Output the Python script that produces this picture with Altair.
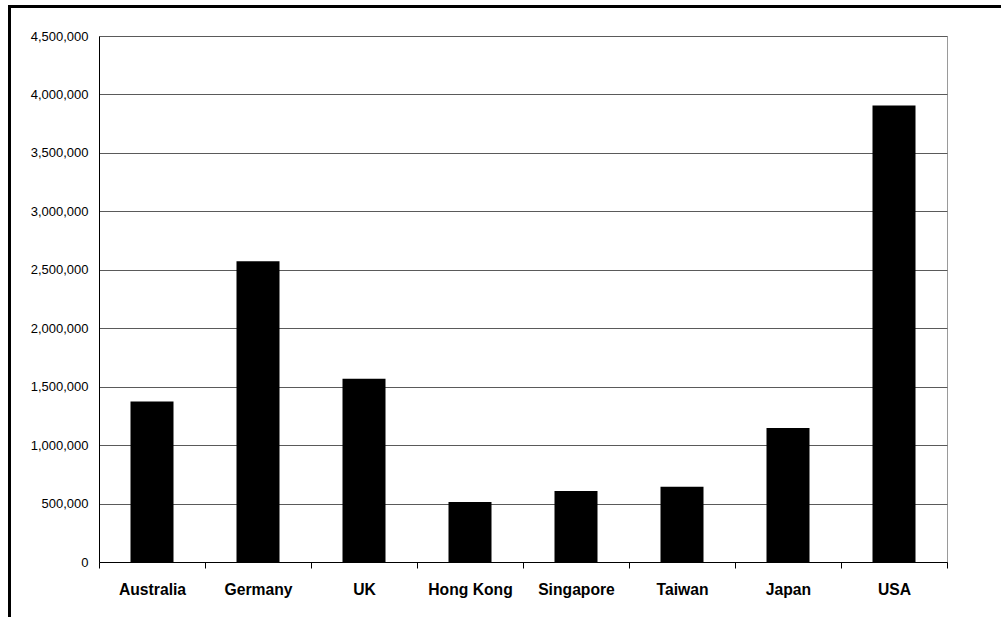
import altair as alt
import pandas as pd

countries = ["Australia", "Germany", "UK", "Hong Kong", "Singapore", "Taiwan", "Japan", "USA"]
values = [1374000, 2572000, 1568000, 513000, 607000, 644000, 1147000, 3905000]
y_ticks = [0, 500000, 1000000, 1500000, 2000000, 2500000, 3000000, 3500000, 4000000, 4500000]

df = pd.DataFrame({"country": countries, "value": values})

W, H = 848, 526
LEFT, TOP = 99, 36

bars = alt.Chart(df).mark_bar(size=43, color="black").encode(
    x=alt.X(
        "country:N",
        sort=countries,
        title=None,
        scale=alt.Scale(paddingInner=0, paddingOuter=0),
        axis=alt.Axis(
            tickBand="extent",
            tickSize=6,
            tickColor="black",
            domainColor="black",
            labelAngle=0,
            labelFont="Liberation Sans",
            labelFontSize=15.7,
            labelFontWeight="bold",
            labelColor="black",
            labelPadding=14,
            labelBaseline="top",
            grid=False,
        ),
    ),
    y=alt.Y(
        "value:Q",
        title=None,
        scale=alt.Scale(domain=[0, 4500000], nice=False),
        axis=alt.Axis(
            values=y_ticks,
            format=",d",
            ticks=False,
            domainColor="black",
            labelFont="Liberation Sans",
            labelFontSize=13,
            labelColor="black",
            labelPadding=11,
            gridColor="#5a5a5a",
            gridWidth=1,
        ),
    ),
)

# frame lines along the top and left edges of the figure
frame = pd.DataFrame({
    "x": [8 - LEFT, 9.5 - LEFT],
    "x2": [1001 - LEFT, 9.5 - LEFT],
    "y": [6.5 - TOP, 5 - TOP],
    "y2": [6.5 - TOP, 617 - TOP],
})
frame_lines = alt.Chart(frame).mark_rule(color="black", strokeWidth=3, clip=False).encode(
    x=alt.X("x:Q", scale=None),
    x2="x2:Q",
    y=alt.Y("y:Q", scale=None),
    y2="y2:Q",
)

chart = alt.layer(bars, frame_lines).properties(
    width=W,
    height=H,
    padding={"left": LEFT, "top": TOP, "right": 1001 - LEFT - W, "bottom": 617 - TOP - H},
    autosize=alt.AutoSizeParams(type="none"),
    background="white",
).configure_view(stroke="#9a9a9a", strokeWidth=1)

chart.save("out.html", embed_options={"renderer": "svg", "actions": False})
